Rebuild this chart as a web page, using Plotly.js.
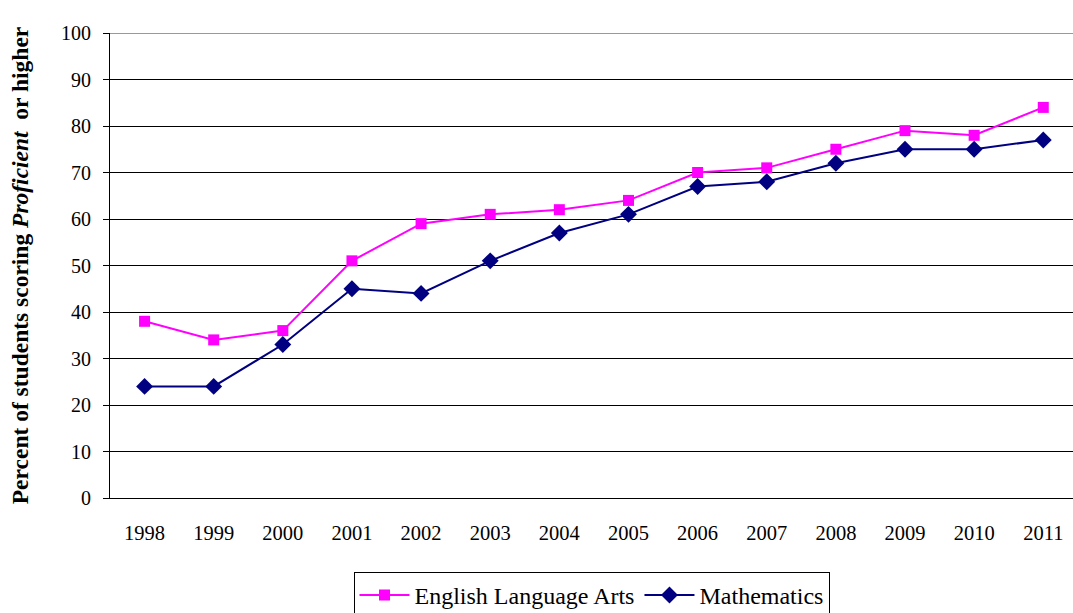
<!DOCTYPE html>
<html><head><meta charset="utf-8">
<script src="https://cdn.plot.ly/plotly-3.0.1.min.js"></script>
<style>html,body{margin:0;padding:0;background:#fff}#chart{width:1073px;height:613px}</style>
</head><body><div id="chart"></div>
<script>
const years = ["1998","1999","2000","2001","2002","2003","2004","2005","2006","2007","2008","2009","2010","2011"];
const ela = [38,34,36,51,59,61,62,64,70,71,75,79,78,84];
const math = [24,24,33,45,44,51,57,61,67,68,72,75,75,77];
const yTicks = [0,10,20,30,40,50,60,70,80,90,100];

const idx = years.map((_, i) => i);
const FAM = "Liberation Serif";
const traces = [
  {x: idx, y: ela, name: "English Language Arts", type: "scatter", mode: "lines+markers",
   line: {color: "#FF00FF", width: 2}, marker: {symbol: "square", size: 11, color: "#FF00FF"}},
  {x: idx, y: math, name: "Mathematics", type: "scatter", mode: "lines+markers",
   line: {color: "#000080", width: 2}, marker: {symbol: "diamond", size: 13, color: "#000080"}}
];
const layout = {
  width: 1073, height: 613,
  margin: {l: 110, r: 0, t: 33, b: 115},
  paper_bgcolor: "#fff", plot_bgcolor: "#fff",
  font: {family: FAM, size: 20, color: "#000"},
  showlegend: true,
  legend: {orientation: "h", xref: "paper", yref: "container", x: 0.5, xanchor: "center", y: 0.067, yanchor: "top",
    bordercolor: "#000", borderwidth: 1, font: {family: FAM, size: 24, color: "#000"},
    itemwidth: 50, traceorder: "normal"},
  xaxis: {range: [-0.5, 13.43], tickvals: idx, ticktext: years, showgrid: false, zeroline: false,
    showline: true, linecolor: "#000", linewidth: 1, ticks: "", ticklabelstandoff: 16, automargin: false,
    tickfont: {family: FAM, size: 20.5, color: "#000"}},
  yaxis: {range: [0, 100], tickvals: yTicks, showgrid: true, gridcolor: "#000", gridwidth: 1,
    zeroline: false, showline: true, linecolor: "#000", linewidth: 1, ticks: "outside", ticklen: 6, tickcolor: "#000",
    ticklabelstandoff: 8, automargin: false,
    tickfont: {family: FAM, size: 20, color: "#000"},
    title: {text: "<b>Percent of students scoring <i>Proficient</i>  or higher</b>", font: {family: FAM, size: 23.5, color: "#000"}, standoff: 25}},
  shapes: [{type: "line", xref: "paper", yref: "y", x0: 0, x1: 1, y0: 100, y1: 100, line: {color: "#999", width: 2}, layer: "below"}]
};
Plotly.newPlot("chart", traces, layout, {displayModeBar: false, staticPlot: true});
</script></body></html>
